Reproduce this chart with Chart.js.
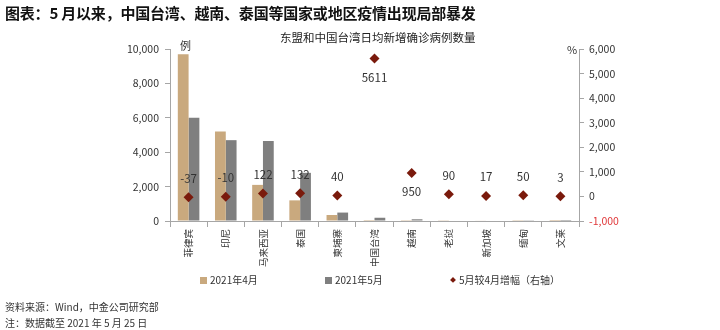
<!DOCTYPE html>
<html>
<head>
<meta charset="utf-8">
<script src="https://cdn.jsdelivr.net/npm/chart.js@4/dist/chart.umd.min.js"></script>
<style>
  body { margin: 0; background: #fff; font-family: "Noto Sans CJK SC", sans-serif; }
  #wrap { position: relative; width: 720px; height: 330px; overflow: hidden; }
  #miGrafico { position: absolute; left: 0; top: 0; }
  .txt { position: absolute; white-space: nowrap; color: #333; line-height: 1; }
  .sq { display: inline-block; width: 7px; height: 7px; margin-right: 3px; vertical-align: 0px; }
</style>
</head>
<body>
<div id="wrap">
  <canvas id="miGrafico" width="720" height="330"></canvas>
  <div class="txt" style="left:5px;top:5px;font-size:15px;font-weight:bold;color:#111;letter-spacing:-0.2px;">图表：5 月以来，中国台湾、越南、泰国等国家或地区疫情出现局部暴发</div>
  <div class="txt" style="left:280px;top:32px;font-size:11.5px;color:#222;">东盟和中国台湾日均新增确诊病例数量</div>
  <div class="txt" style="left:180px;top:40px;font-size:11px;">例</div>
  <div class="txt" style="left:567px;top:44px;font-size:11px;">%</div>
  <div class="txt" style="left:200px;top:275px;font-size:10px;"><span class="sq" style="background:#C9A97E"></span>2021年4月</div>
  <div class="txt" style="left:325px;top:275px;font-size:10px;"><span class="sq" style="background:#7F7F7F"></span>2021年5月</div>
  <div class="txt" style="left:450px;top:275px;font-size:10px;"><span style="color:#7A1A0C;font-size:6px;vertical-align:2px;margin-right:3px;">◆</span>5月较4月增幅（右轴）</div>
  <div class="txt" style="left:5px;top:302px;font-size:10px;">资料来源：Wind，中金公司研究部</div>
  <div class="txt" style="left:5px;top:318px;font-size:10px;">注：数据截至 2021 年 5 月 25 日</div>
</div>
<script>
// categorías y datos
const categorias = ["菲律宾", "印尼", "马来西亚", "泰国", "柬埔寨", "中国台湾", "越南", "老挝", "新加坡", "缅甸", "文莱"];
const abril2021 = [9700, 5200, 2100, 1200, 350, 3.3, 9.5, 15, 25, 10, 1];
const mayo2021 = [6000, 4700, 4650, 2800, 490, 189, 100, 28, 29, 15, 1];
const incremento = [-37, -10, 122, 132, 40, 5611, 950, 90, 17, 50, 3];

// etiquetas de los puntos
const etiquetas = {
  id: "etiquetas",
  afterDatasetsDraw(chart) {
    const ctx = chart.ctx;
    const meta = chart.getDatasetMeta(0);
    ctx.save();
    ctx.font = "11.5px 'Noto Sans CJK SC'";
    ctx.fillStyle = "#333";
    ctx.textAlign = "center";
    ctx.textBaseline = "middle";
    meta.data.forEach((p, i) => {
      const v = incremento[i];
      const y = v > 500 ? p.y + 19 : p.y - 19;
      ctx.fillText(String(v), p.x, y);
    });
    ctx.restore();
  }
};

const fuente = { family: "'Noto Sans CJK SC'", size: 10.5 };

const config = {
  type: "bar",
  data: {
    labels: categorias,
    datasets: [
      {
        type: "line",
        label: "5月较4月增幅（右轴）",
        data: incremento,
        yAxisID: "y1",
        showLine: false,
        pointStyle: "rectRot",
        pointRadius: 5,
        backgroundColor: "#7A1A0C",
        borderColor: "#7A1A0C",
        borderWidth: 0,
        order: 0
      },
      {
        label: "2021年4月",
        data: abril2021,
        backgroundColor: "#C9A97E",
        yAxisID: "y",
        categoryPercentage: 0.58,
        barPercentage: 1,
        order: 1
      },
      {
        label: "2021年5月",
        data: mayo2021,
        backgroundColor: "#7F7F7F",
        yAxisID: "y",
        categoryPercentage: 0.58,
        barPercentage: 1,
        order: 1
      }
    ]
  },
  options: {
    responsive: false,
    animation: false,
    layout: { padding: { left: 110, right: 81, top: 49, bottom: 49 } },
    plugins: { legend: { display: false }, tooltip: { enabled: false } },
    scales: {
      x: {
        afterFit(s) { s.height = 60; },
        grid: { drawOnChartArea: false, offset: true, tickLength: 6, color: "#A6A6A6" },
        border: { color: "#A6A6A6" },
        ticks: { font: { family: "'Noto Sans CJK SC'", size: 9.5 }, color: "#333",
          maxRotation: 90, minRotation: 90, padding: 2, autoSkip: false }
      },
      y: {
        position: "left",
        min: 0, max: 10000,
        afterFit(s) { s.width = 60; },
        grid: { drawOnChartArea: false, tickLength: 5, color: "#A6A6A6" },
        border: { color: "#A6A6A6" },
        ticks: { stepSize: 2000, font: fuente, color: "#333", padding: 6,
          callback: v => v.toLocaleString("en-US") }
      },
      y1: {
        position: "right",
        min: -1000, max: 6000,
        afterFit(s) { s.width = 60; },
        grid: { drawOnChartArea: false, tickLength: 5, color: "#A6A6A6" },
        border: { color: "#A6A6A6" },
        ticks: { stepSize: 1000, font: fuente, padding: 5,
          color: c => (c.tick.value < 0 ? "#E0383A" : "#333"),
          callback: v => v.toLocaleString("en-US") }
      }
    }
  },
  plugins: [etiquetas]
};

const ctx = document.getElementById("miGrafico").getContext("2d");
new Chart(ctx, config);
</script>
</body>
</html>
